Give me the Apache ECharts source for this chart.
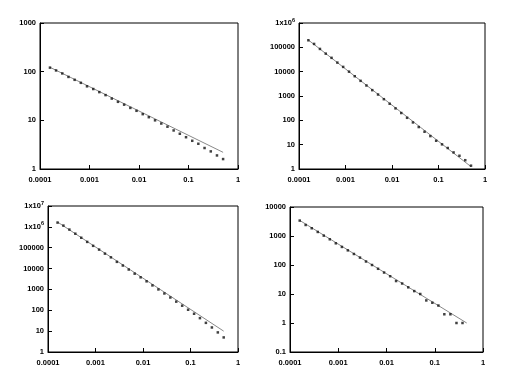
<!DOCTYPE html>
<html><head><meta charset="utf-8">
<script src="https://cdn.jsdelivr.net/npm/echarts@6/dist/echarts.min.js"></script>
<style>html,body{margin:0;padding:0;background:#fff}#c{width:518px;height:376px}</style>
</head><body><div id="c"></div>
<script>
// Shared x values (bin centres)
var xs = [0.000159,0.000211,0.000282,0.000376,0.000501,0.000668,0.000891,0.00119,0.00158,0.00211,0.00282,0.00376,0.00501,0.00668,0.00891,0.0119,0.0158,0.0211,0.0282,0.0376,0.0501,0.0668,0.0891,0.119,0.158,0.211,0.282,0.376,0.5];

var y1 = [121,106,92,78,68,59,50,44,38,33,28,24,21,18,15.7,13.4,11.6,10,8.6,7.4,6.2,5.3,4.5,3.8,3.3,2.7,2.3,1.9,1.6];
var y2 = [195000,138000,86000,55000,37000,23600,15700,10000,6500,4200,2700,1740,1150,740,480,310,200,127,82,53,34,22.5,14.5,10.3,7.3,4.8,3.5,2.3,1.37];
var y3 = [1600000,1150000,740000,470000,300000,190000,123000,81000,52000,34500,21000,14000,9000,5700,3800,2450,1560,1000,640,410,260,166,106,68,42,25,15,8.7,5];
var y4 = [3400,2400,1850,1380,1030,770,560,420,320,240,180,132,100,74,55,41,28,23,17,12.6,10,6,5,4,2,2,1,1];

// Fitted power-law lines (endpoints)
var fit1X = [0.000159, 0.5], fit1Y = [123, 2.2];
var fit2X = [0.000159, 0.5], fit2Y = [200000, 1.25];
var fit3X = [0.000159, 0.5], fit3Y = [1700000, 10];
var fit4X = [0.000159, 0.46], fit4Y = [3450, 1.0];

// Tick labels
var xTicks = ['0.0001','0.001','0.01','0.1','1'];
var yTicks1 = ['1','10','100','1000'];
var yTicks2 = ['1','10','100','1000','10000','100000','1x10^6'];
var yTicks3 = ['1','10','100','1000','10000','100000','1x10^6','1x10^7'];
var yTicks4 = ['0.1','1','10','100','1000','10000'];

var grids = [
  {left:40, top:23, width:198, height:146},
  {left:299, top:23, width:186, height:146},
  {left:48, top:206, width:190, height:146},
  {left:290, top:207, width:193, height:145}
];
var yRanges = [[1,1000,0],[1,1e6,0],[1,1e7,0],[0.1,10000,-1]];
var yTickSets = [yTicks1,yTicks2,yTicks3,yTicks4];
var ySets = [y1,y2,y3,y4];
var fits = [[fit1X,fit1Y],[fit2X,fit2Y],[fit3X,fit3Y],[fit4X,fit4Y]];

var FONT = 'Liberation Sans';
function fmtTick(s){
  var m = s.match(/^1x10\^(\d+)$/);
  if (m) return '{b|1x10}{s|' + m[1] + '}';
  return '{b|' + s + '}';
}
var rich = {
  b:{fontSize:7.5,fontWeight:'bold',fontFamily:FONT,color:'#000',lineHeight:12},
  s:{fontSize:5.5,fontWeight:'bold',fontFamily:FONT,color:'#000',lineHeight:6,verticalAlign:'top'}
};

var option = {animation:false, grid:[], xAxis:[], yAxis:[], series:[]};
for (var i=0;i<4;i++){
  var g = grids[i];
  option.grid.push({left:g.left, top:g.top, width:g.width, height:g.height, show:true, borderColor:'#000', borderWidth:1, containLabel:false});
  option.xAxis.push({type:'log', logBase:10, gridIndex:i, min:0.0001, max:1, splitNumber:4,
    axisLine:{show:true,onZero:false,lineStyle:{color:'#000',width:1}},
    axisTick:{show:true,inside:true,length:4,lineStyle:{color:'#000'}},
    splitLine:{show:false},
    axisLabel:{margin:5, formatter:function(v){var e=Math.round(Math.log10(v)); return fmtTick(xTicks[e+4]);}, rich:rich}
  });
  var yr = yRanges[i], ts = yTickSets[i];
  option.yAxis.push({type:'log', logBase:10, gridIndex:i, min:yr[0], max:yr[1], splitNumber:ts.length-1,
    axisLine:{show:true,onZero:false,lineStyle:{color:'#000',width:1}},
    axisTick:{show:true,inside:true,length:4,lineStyle:{color:'#000'}},
    splitLine:{show:false},
    axisLabel:{margin:4, formatter:(function(ts,off){return function(v){var e=Math.round(Math.log10(v)); var t=ts[e-off]; return t?fmtTick(t):'';};})(ts,yr[2]), rich:rich}
  });
  var ys = ySets[i];
  option.series.push({type:'scatter', xAxisIndex:i, yAxisIndex:i, symbol:'rect', symbolSize:2.5,
    itemStyle:{color:'#111'}, data: ys.map(function(v,k){return [xs[k], v];}), z:3});
  var f = fits[i];
  option.series.push({type:'line', xAxisIndex:i, yAxisIndex:i, showSymbol:false, symbol:'none',
    lineStyle:{color:'#888',width:1}, data: f[0].map(function(x,k){return [x, f[1][k]];}), z:2});
}
var chart = echarts.init(document.getElementById('c'), null, {renderer:'canvas'});
chart.setOption(option);
</script></body></html>
